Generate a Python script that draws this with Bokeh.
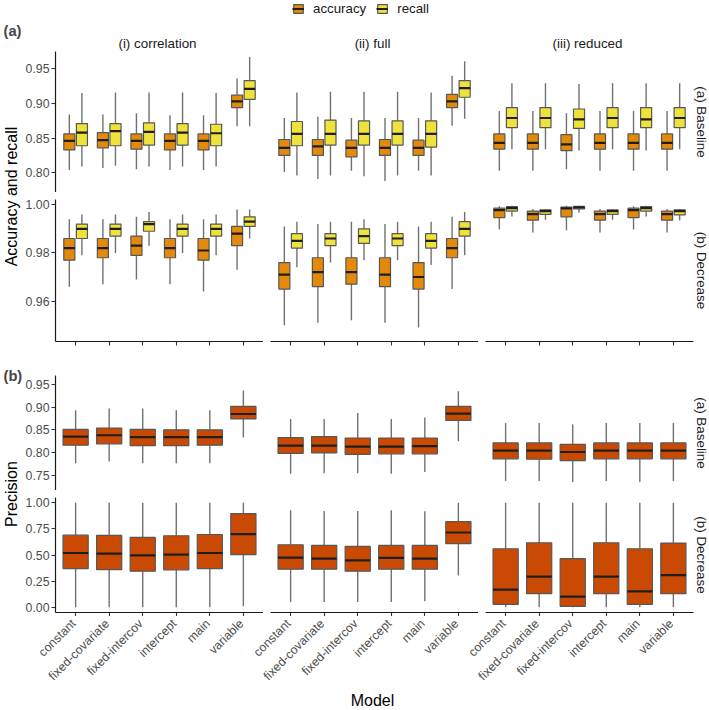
import math
from bokeh.plotting import figure
from bokeh.layouts import column, row
from bokeh.models import (Range1d, LinearAxis, FixedTicker, NumeralTickFormatter, Title, Label,
                          ColumnDataSource, Legend, LegendItem)
from bokeh.embed import file_html
from bokeh.resources import INLINE

# ---------------------------------------------------------------- data
MODELS = ["constant", "fixed-covariate", "fixed-intercov", "intercept", "main", "variable"]
PANELS = ["(i) correlation", "(ii) full", "(iii) reduced"]
ROWS = ["(a) Baseline", "(b) Decrease"]
METRICS = ["accuracy", "recall"]

# each entry per model: (lower whisker, Q1, median, Q3, upper whisker)
acc_base_corr = [(0.804, 0.833, 0.846, 0.856, 0.884), (0.807, 0.836, 0.847, 0.858, 0.884),
                 (0.805, 0.834, 0.846, 0.856, 0.886), (0.804, 0.833, 0.846, 0.856, 0.883),
                 (0.804, 0.833, 0.846, 0.856, 0.883), (0.867, 0.894, 0.903, 0.912, 0.936)]
rec_base_corr = [(0.809, 0.839, 0.858, 0.871, 0.915), (0.810, 0.839, 0.860, 0.871, 0.916),
                 (0.809, 0.840, 0.859, 0.872, 0.916), (0.809, 0.840, 0.858, 0.871, 0.916),
                 (0.809, 0.839, 0.857, 0.870, 0.915), (0.867, 0.906, 0.921, 0.933, 0.967)]
acc_base_full = [(0.801, 0.825, 0.836, 0.848, 0.879), (0.791, 0.825, 0.838, 0.848, 0.881),
                 (0.803, 0.823, 0.836, 0.847, 0.879), (0.788, 0.825, 0.836, 0.848, 0.879),
                 (0.803, 0.825, 0.836, 0.847, 0.879), (0.868, 0.894, 0.903, 0.913, 0.940)]
rec_base_full = [(0.796, 0.839, 0.856, 0.874, 0.916), (0.796, 0.840, 0.856, 0.876, 0.917),
                 (0.795, 0.840, 0.856, 0.875, 0.917), (0.796, 0.840, 0.856, 0.875, 0.917),
                 (0.796, 0.837, 0.856, 0.875, 0.916), (0.878, 0.909, 0.922, 0.933, 0.961)]
acc_base_red = [(0.803, 0.834, 0.843, 0.856, 0.889), (0.803, 0.834, 0.843, 0.856, 0.889),
                (0.805, 0.832, 0.841, 0.855, 0.886), (0.803, 0.834, 0.843, 0.856, 0.889),
                (0.803, 0.834, 0.843, 0.856, 0.889), (0.803, 0.834, 0.843, 0.856, 0.889)]
rec_base_red = [(0.834, 0.865, 0.879, 0.894, 0.929), (0.834, 0.865, 0.879, 0.894, 0.929),
                (0.832, 0.864, 0.877, 0.892, 0.928), (0.834, 0.865, 0.879, 0.894, 0.929),
                (0.832, 0.865, 0.877, 0.894, 0.929), (0.834, 0.865, 0.879, 0.894, 0.929)]

acc_dec_corr = [(0.966, 0.977, 0.982, 0.986, 0.994), (0.967, 0.978, 0.982, 0.986, 0.994),
                (0.969, 0.979, 0.983, 0.987, 0.995), (0.967, 0.978, 0.982, 0.986, 0.994),
                (0.964, 0.977, 0.981, 0.986, 0.994), (0.973, 0.983, 0.988, 0.991, 0.998)]
rec_dec_corr = [(0.979, 0.986, 0.990, 0.992, 0.996), (0.980, 0.987, 0.990, 0.992, 0.996),
                (0.983, 0.989, 0.992, 0.993, 0.997), (0.980, 0.987, 0.990, 0.992, 0.996),
                (0.979, 0.987, 0.990, 0.992, 0.996), (0.986, 0.991, 0.993, 0.995, 0.998)]
acc_dec_full = [(0.950, 0.965, 0.971, 0.976, 0.991), (0.951, 0.966, 0.972, 0.978, 0.992),
                (0.952, 0.967, 0.972, 0.978, 0.993), (0.951, 0.966, 0.971, 0.978, 0.992),
                (0.949, 0.965, 0.970, 0.976, 0.991), (0.965, 0.978, 0.982, 0.986, 0.995)]
rec_dec_full = [(0.974, 0.982, 0.985, 0.988, 0.993), (0.976, 0.983, 0.986, 0.988, 0.993),
                (0.977, 0.984, 0.987, 0.990, 0.994), (0.977, 0.983, 0.986, 0.988, 0.993),
                (0.975, 0.982, 0.985, 0.988, 0.993), (0.979, 0.987, 0.990, 0.993, 0.997)]
acc_dec_red = [(0.9897, 0.9947, 0.9978, 0.9986, 0.9994), (0.9885, 0.9936, 0.9961, 0.9974, 0.9983),
               (0.9894, 0.9950, 0.9985, 0.9990, 0.9996), (0.9885, 0.9936, 0.9961, 0.9974, 0.9983),
               (0.9897, 0.9947, 0.9978, 0.9986, 0.9994), (0.9885, 0.9936, 0.9961, 0.9974, 0.9983)]
rec_dec_red = [(0.9951, 0.9974, 0.9986, 0.9993, 0.9996), (0.9938, 0.9960, 0.9974, 0.9979, 0.9983),
               (0.9967, 0.9983, 0.9989, 0.9994, 0.9996), (0.9938, 0.9960, 0.9974, 0.9979, 0.9983),
               (0.9951, 0.9974, 0.9986, 0.9993, 0.9996), (0.9935, 0.9958, 0.9974, 0.9979, 0.9983)]

prec_base_corr = [(0.776, 0.816, 0.835, 0.851, 0.893), (0.780, 0.819, 0.838, 0.854, 0.897),
                  (0.776, 0.815, 0.834, 0.851, 0.897), (0.776, 0.815, 0.834, 0.850, 0.893),
                  (0.776, 0.816, 0.834, 0.850, 0.893), (0.833, 0.874, 0.885, 0.902, 0.937)]
prec_base_full = [(0.753, 0.798, 0.815, 0.833, 0.874), (0.754, 0.799, 0.815, 0.835, 0.874),
                  (0.754, 0.796, 0.813, 0.832, 0.887), (0.753, 0.797, 0.813, 0.832, 0.874),
                  (0.757, 0.797, 0.814, 0.832, 0.877), (0.825, 0.871, 0.886, 0.902, 0.935)]
prec_base_red = [(0.737, 0.786, 0.804, 0.821, 0.865), (0.737, 0.785, 0.804, 0.821, 0.865),
                 (0.735, 0.782, 0.801, 0.818, 0.862), (0.737, 0.786, 0.804, 0.821, 0.865),
                 (0.735, 0.786, 0.804, 0.821, 0.865), (0.737, 0.786, 0.804, 0.821, 0.865)]
prec_dec_corr = [(0.00, 0.370, 0.519, 0.690, 1.00), (0.00, 0.361, 0.513, 0.687, 1.00),
                 (0.00, 0.345, 0.497, 0.668, 1.00), (0.00, 0.358, 0.503, 0.684, 1.00),
                 (0.00, 0.370, 0.519, 0.696, 1.00), (0.01, 0.503, 0.699, 0.896, 1.00)]
prec_dec_full = [(0.051, 0.364, 0.475, 0.598, 0.927), (0.051, 0.364, 0.465, 0.592, 0.921),
                 (0.051, 0.345, 0.449, 0.582, 0.921), (0.051, 0.364, 0.472, 0.592, 0.927),
                 (0.057, 0.364, 0.465, 0.592, 0.918), (0.304, 0.608, 0.715, 0.820, 1.00)]
prec_dec_red = [(0.00, 0.028, 0.168, 0.560, 1.00), (0.00, 0.130, 0.294, 0.617, 1.00),
                (0.00, 0.009, 0.101, 0.465, 1.00), (0.00, 0.130, 0.294, 0.617, 1.00),
                (0.00, 0.028, 0.152, 0.560, 1.00), (0.00, 0.130, 0.307, 0.614, 1.00)]

A_DATA = [[(acc_base_corr, rec_base_corr), (acc_base_full, rec_base_full), (acc_base_red, rec_base_red)],
          [(acc_dec_corr, rec_dec_corr), (acc_dec_full, rec_dec_full), (acc_dec_red, rec_dec_red)]]
B_DATA = [[prec_base_corr, prec_base_full, prec_base_red],
          [prec_dec_corr, prec_dec_full, prec_dec_red]]

A_YTICKS = [[0.80, 0.85, 0.90, 0.95], [0.96, 0.98, 1.00]]
B_YTICKS = [[0.75, 0.80, 0.85, 0.90, 0.95], [0.00, 0.25, 0.50, 0.75, 1.00]]

# ---------------------------------------------------------------- style / layout
FONT = "Liberation Sans"
ACC_COLOR = "#E38A0B"
REC_COLOR = "#EFE33B"
PREC_COLOR = "#CB4A03"
OUTLINE = "#575757"
WHISKER = "#707070"
MEDIAN = "#1E1E1E"
TICK_TEXT = "#4D4D4D"
STRIP_TEXT = "#1A1A1A"

YT, LB, FW, GAP, RB = 22, 31, 208, 7, 18
W = YT + LB + 3 * FW + 2 * GAP + RB            # 709
HEADER_H = 51
A1_H, A2_H, ROW_GAP, A_AXIS = 141, 142, 7, 8
B_TOP, B1_H, B2_H, B_AXIS = 26, 115, 115, 4
LABELS_H = 709 - (HEADER_H + A1_H + ROW_GAP + A2_H + A_AXIS + B_TOP + B1_H + ROW_GAP + B2_H + B_AXIS)

BOXW_A, DODGE, BOXW_B = 0.33, 0.1875, 0.75
PITCH = 6.4

COMMON = dict(toolbar_location=None, output_backend="svg", outline_line_color=None,
              x_axis_location=None, y_axis_location=None, frame_align=False)


def base_fig(col, frame_h, y_range, top, bottom):
    p = figure(frame_width=FW, frame_height=frame_h, x_range=Range1d(0.4, 6.6), y_range=y_range,
               min_border_left=LB if col == 0 else GAP, min_border_right=RB if col == 2 else 0,
               min_border_top=top, min_border_bottom=bottom, **COMMON)
    p.grid.visible = False
    return p


def style_axis(ax):
    ax.axis_line_color = "#1A1A1A"
    ax.axis_line_width = 1.2
    ax.major_tick_line_color = "#333333"
    ax.major_tick_line_width = 1.1
    ax.major_tick_in = 0
    ax.major_tick_out = 4
    ax.minor_tick_line_color = None
    ax.major_label_text_font = FONT
    ax.major_label_text_font_size = "12.3px"
    ax.major_label_text_color = TICK_TEXT
    ax.major_label_standoff = 2


def add_yaxis(p, ticks):
    ax = LinearAxis(ticker=FixedTicker(ticks=ticks), formatter=NumeralTickFormatter(format="0.00"))
    style_axis(ax)
    p.add_layout(ax, "left")


def add_xticks(p):
    # axis line and tick marks only; the model names are drawn once, below the bottom row
    ax = LinearAxis(ticker=FixedTicker(ticks=[i + 1 for i in range(len(MODELS))]))
    style_axis(ax)
    ax.major_label_text_color = None
    ax.major_label_text_font_size = "0px"
    ax.major_label_standoff = 0
    p.add_layout(ax, "below")


def right_strip(text):
    return Title(text=text, align="center", standoff=0, text_font=FONT, text_font_size="13.4px",
                 text_font_style="normal", text_color=STRIP_TEXT)


def draw_boxes(p, stats, offset, width, fill):
    xs = [i + 1 + offset for i in range(len(MODELS))]
    low, q1, med, q3, high = (list(v) for v in zip(*stats))
    src = ColumnDataSource(dict(x=xs, xl=[x - width / 2 for x in xs], xr=[x + width / 2 for x in xs],
                                low=low, q1=q1, med=med, q3=q3, high=high))
    p.segment(x0="x", y0="low", x1="x", y1="q1", source=src, line_color=WHISKER, line_width=1.4)
    p.segment(x0="x", y0="q3", x1="x", y1="high", source=src, line_color=WHISKER, line_width=1.4)
    p.vbar(x="x", width=width, bottom="q1", top="q3", source=src, fill_color=fill,
           line_color=OUTLINE, line_width=1.2)
    p.segment(x0="xl", y0="med", x1="xr", y1="med", source=src, line_color=MEDIAN, line_width=2.2)


def blank_fig(w, h):
    p = figure(width=w, height=h, x_range=Range1d(0, w), y_range=Range1d(0, h), min_border=0, **COMMON)
    p.grid.visible = False
    return p


def y_title(text, y):
    return Label(x=YT / 2 - 0.5, y=y, text=text, angle=math.pi / 2, text_align="center",
                 text_baseline="middle", text_font=FONT, text_font_size="16px", text_color="#000000")


# ---------------------------------------------------------------- header: legend, (a), strip titles
header = blank_fig(W, HEADER_H)
nan = float("nan")
r_acc = header.vbar(x=[nan], top=[nan], width=1, fill_color=ACC_COLOR, line_color=OUTLINE, line_width=1.2)
m_acc = header.segment(x0=[nan], y0=[nan], x1=[nan], y1=[nan], line_color=MEDIAN, line_width=2)
r_rec = header.vbar(x=[nan], top=[nan], width=1, fill_color=REC_COLOR, line_color=OUTLINE, line_width=1.2)
m_rec = header.segment(x0=[nan], y0=[nan], x1=[nan], y1=[nan], line_color=MEDIAN, line_width=2)
legend = Legend(items=[LegendItem(label=METRICS[0], renderers=[r_acc, m_acc]),
                       LegendItem(label=METRICS[1], renderers=[r_rec, m_rec])],
                orientation="horizontal", location=(292, HEADER_H - 16), border_line_color=None,
                background_fill_alpha=0, padding=0, margin=0, spacing=10,
                glyph_width=12, glyph_height=11, label_height=11, label_standoff=9,
                label_text_font=FONT, label_text_font_size="13.3px", label_text_color=STRIP_TEXT)
header.add_layout(legend)
header.add_layout(Label(x=3, y=HEADER_H - 30.3, text="(a)", text_font=FONT, text_font_style="bold",
                        text_font_size="14.7px", text_baseline="alphabetic", text_align="left"))
for c, name in enumerate(PANELS):
    header.add_layout(Label(x=YT + LB + FW / 2 + c * (FW + GAP), y=HEADER_H - 42.9, text=name,
                            text_font=FONT, text_font_size="13.4px", text_color=STRIP_TEXT,
                            text_baseline="alphabetic", text_align="center"))

# ---------------------------------------------------------------- section (a)
A_YRANGES = [Range1d(0.7715, 0.975), Range1d(0.9432, 1.0022)]
a_rows = []
for r in range(2):
    figs = []
    for c in range(3):
        p = base_fig(c, A1_H if r == 0 else A2_H, A_YRANGES[r],
                     0 if r == 0 else ROW_GAP, 0 if r == 0 else A_AXIS)
        draw_boxes(p, A_DATA[r][c][0], -DODGE, BOXW_A, ACC_COLOR)
        draw_boxes(p, A_DATA[r][c][1], DODGE, BOXW_A, REC_COLOR)
        if c == 0:
            add_yaxis(p, A_YTICKS[r])
        if r == 1:
            add_xticks(p)
        if c == 2:
            p.add_layout(right_strip(ROWS[r]), "right")
        figs.append(p)
    a_rows.append(row(*figs))

yt_a_h = A1_H + ROW_GAP + A2_H + A_AXIS
yt_a = blank_fig(YT, yt_a_h)
yt_a.add_layout(y_title("Accuracy and recall", yt_a_h - (A1_H + ROW_GAP + A2_H) / 2))

# ---------------------------------------------------------------- section (b)
B_YRANGES = [Range1d(0.716, 0.970), Range1d(-0.05, 1.05)]
b_rows = []
for r in range(2):
    figs = []
    for c in range(3):
        p = base_fig(c, B1_H if r == 0 else B2_H, B_YRANGES[r],
                     B_TOP if r == 0 else ROW_GAP, 0 if r == 0 else B_AXIS)
        draw_boxes(p, B_DATA[r][c], 0, BOXW_B, PREC_COLOR)
        if c == 0:
            add_yaxis(p, B_YTICKS[r])
        if r == 1:
            add_xticks(p)
        if c == 2:
            p.add_layout(right_strip(ROWS[r]), "right")
        figs.append(p)
    b_rows.append(row(*figs))

yt_b_h = B_TOP + B1_H + ROW_GAP + B2_H + B_AXIS
yt_b = blank_fig(YT, yt_b_h)
yt_b.add_layout(Label(x=3, y=yt_b_h - B_TOP, text="(b)", text_font=FONT, text_font_style="bold",
                      text_font_size="14.7px", text_baseline="alphabetic", text_align="left"))
yt_b.add_layout(y_title("Precision", yt_b_h - (B_TOP + (B1_H + ROW_GAP + B2_H) / 2)))

# ---------------------------------------------------------------- shared x tick labels
lab = figure(frame_width=3 * FW + 2 * GAP, frame_height=1,
             x_range=Range1d(0.4, 0.4 + 2 * PITCH + 6.2), y_range=Range1d(0, 1),
             min_border_left=YT + LB, min_border_right=RB, min_border_top=0,
             min_border_bottom=LABELS_H - 1, **COMMON)
lab.grid.visible = False
ticks, overrides = [], {}
for k in range(3):
    for i, m in enumerate(MODELS):
        t = round(k * PITCH + i + 1, 4)
        ticks.append(t)
        overrides[t] = m
xa = LinearAxis(ticker=FixedTicker(ticks=ticks), major_label_overrides=overrides,
                major_label_orientation=math.pi / 4, axis_line_color=None,
                major_tick_line_color=None, major_tick_in=0, major_tick_out=3,
                minor_tick_line_color=None, major_label_standoff=1,
                major_label_text_font=FONT, major_label_text_font_size="12.3px",
                major_label_text_color=TICK_TEXT,
                axis_label="Model", axis_label_standoff=1, axis_label_text_font=FONT,
                axis_label_text_font_size="16px", axis_label_text_font_style="normal",
                axis_label_text_color="#000000")
lab.add_layout(xa, "below")

layout = column(header,
                row(yt_a, column(*a_rows)),
                row(yt_b, column(*b_rows)),
                lab)

open("out.html", "w").write(file_html(layout, INLINE))
